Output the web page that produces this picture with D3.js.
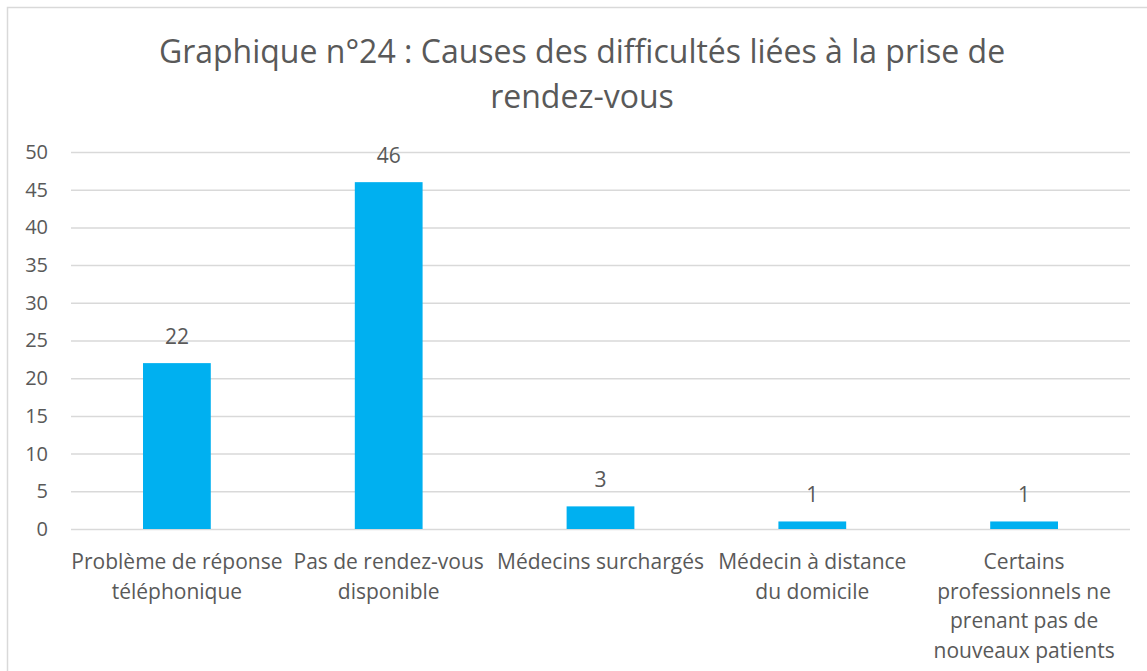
<!DOCTYPE html>
<html>
<head>
<meta charset="utf-8">
<script src="https://cdn.jsdelivr.net/npm/d3@7"></script>
<style>
  body { margin: 0; background: #fff; }
  text { font-family: "Open Sans", Lato, sans-serif; fill: #595959; }
</style>
</head>
<body>
<div id="chart"></div>
<script>
// chart values
const titleLines = ["Graphique n°24 : Causes des difficultés liées à la prise de", "rendez-vous"];
const categories = [
	"Problème de réponse\ntéléphonique",
	"Pas de rendez-vous\ndisponible",
	"Médecins surchargés",
	"Médecin à distance\ndu domicile",
	"Certains\nprofessionnels ne\nprenant pas de\nnouveaux patients"
];
const values = [22, 46, 3, 1, 1];
const yTicks = [0, 5, 10, 15, 20, 25, 30, 35, 40, 45, 50];

function drawChart() {
	const W = 1147, H = 671;
	const margin = {top: 152, right: 17, bottom: 142, left: 71},
		w = W - margin.left - margin.right,
		h = H - margin.top - margin.bottom;

	const svg = d3.select("#chart").append("svg")
		.attr("width", W)
		.attr("height", H);

	// outer frame (right and bottom edges are off the picture)
	svg.append("rect")
		.attr("x", 7.5).attr("y", 7.5)
		.attr("width", W + 20).attr("height", H + 20)
		.attr("fill", "none")
		.attr("stroke", "#d9d9d9")
		.attr("stroke-width", 1.5);

	// title
	svg.append("text")
		.attr("text-anchor", "middle")
		.attr("font-size", 32)
		.selectAll("tspan")
		.data(titleLines)
		.enter().append("tspan")
		.attr("x", 582)
		.attr("y", (d, i) => 63 + i * 45)
		.text(d => d);

	const g = svg.append("g")
		.attr("transform", "translate(" + margin.left + "," + margin.top + ")");

	const x = d3.scaleBand().domain(categories).range([0, w]).paddingInner(0.68).paddingOuter(0.34);
	const y = d3.scaleLinear().domain([0, 50]).range([h, 0]);

	// y axis + gridlines
	const yAxis = d3.axisLeft(y).tickValues(yTicks).tickSize(-w).tickPadding(23);
	const gY = g.append("g").call(yAxis);
	gY.select(".domain").remove();
	gY.selectAll(".tick line").attr("stroke", "#d9d9d9").attr("stroke-width", 1.5);
	gY.selectAll(".tick text")
		.attr("font-size", 20)
		.attr("fill", "#595959")
		.attr("font-family", "'Open Sans', Lato, sans-serif");

	// bars
	g.selectAll("rect.bar")
		.data(values)
		.enter().append("rect")
		.attr("class", "bar")
		.attr("x", (d, i) => x(categories[i]))
		.attr("y", d => y(d))
		.attr("width", x.bandwidth())
		.attr("height", d => h - y(d))
		.attr("fill", "#00b0f0");

	// data labels
	g.selectAll("text.lbl")
		.data(values)
		.enter().append("text")
		.attr("class", "lbl")
		.attr("text-anchor", "middle")
		.attr("font-size", 21)
		.attr("x", (d, i) => x(categories[i]) + x.bandwidth() / 2)
		.attr("y", d => y(d) - 19.5)
		.text(d => d);

	// category labels
	const catG = g.selectAll("text.cat")
		.data(categories)
		.enter().append("text")
		.attr("class", "cat")
		.attr("text-anchor", "middle")
		.attr("font-size", 21);
	catG.selectAll("tspan")
		.data(d => d.split("\n").map(t => ({t: t, c: d})))
		.enter().append("tspan")
		.attr("x", d => x(d.c) + x.bandwidth() / 2)
		.attr("y", (d, i) => h + 40 + i * 29.5)
		.text(d => d.t);
}

drawChart();
</script>
</body>
</html>
